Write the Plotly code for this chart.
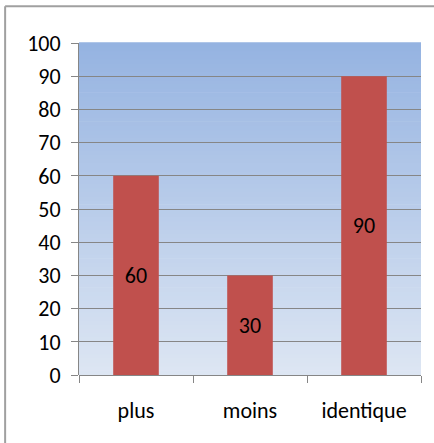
import plotly.graph_objects as go

categories = ["plus", "moins", "identique"]
values = [60, 30, 90]
y_ticks = [0, 10, 20, 30, 40, 50, 60, 70, 80, 90, 100]

FONT = "Carlito, Lato, Open Sans, sans-serif"

fig = go.Figure()

fig.add_trace(go.Bar(
    x=categories, y=values, width=0.4,
    marker=dict(color="#C0504D", line=dict(width=0)),
    text=[str(v) for v in values], textposition="inside",
    insidetextanchor="middle", textangle=0, constraintext="none",
    textfont=dict(family=FONT, size=22, color="black"),
    showlegend=False,
))

# vertical gradient background built from thin strips below the grid
top = (149, 179, 225)
bot = (221, 230, 243)
n = 80
shapes = []
for i in range(n):
    t = (i + 0.5) / n
    c = tuple(round(bot[k] + (top[k] - bot[k]) * t) for k in range(3))
    shapes.append(dict(
        type="rect", xref="x domain", yref="y domain",
        x0=0, x1=1, y0=i / n, y1=(i + 1) / n + 0.002,
        fillcolor="rgb(%d,%d,%d)" % c, line=dict(width=0), layer="below",
    ))

# outer frame (top and left edges)
shapes.append(dict(type="line", xref="paper", yref="paper",
                   x0=-0.216, x1=1.06, y0=1.111, y1=1.111,
                   line=dict(color="#A0A0A0", width=2)))
shapes.append(dict(type="line", xref="paper", yref="paper",
                   x0=-0.216, x1=-0.216, y0=1.111, y1=-0.35,
                   line=dict(color="#A0A0A0", width=2)))

fig.update_layout(
    width=434, height=443,
    margin=dict(l=79, r=13, t=43, b=68),
    paper_bgcolor="white", plot_bgcolor="rgba(0,0,0,0)",
    font=dict(family=FONT, color="black"),
    shapes=shapes,
)
fig.update_xaxes(
    type="category", range=[-0.5, 2.5], showgrid=False, showline=False,
    ticks="outside", ticklen=7, tickcolor="#868686", tickwidth=1,
    tickson="boundaries", tickfont=dict(size=22),
    ticklabelstandoff=20,
)
fig.update_yaxes(
    range=[0, 100], tickvals=y_ticks, showgrid=True, gridcolor="#868686",
    gridwidth=1, zeroline=True, zerolinecolor="#868686", zerolinewidth=1,
    showline=True, linecolor="#868686", linewidth=1,
    ticks="outside", ticklen=7, tickcolor="#868686",
    tickfont=dict(size=22), ticklabelstandoff=6,
)

fig.write_html("out.html", config={"displayModeBar": False},
               post_script="document.body.style.margin='0';")
